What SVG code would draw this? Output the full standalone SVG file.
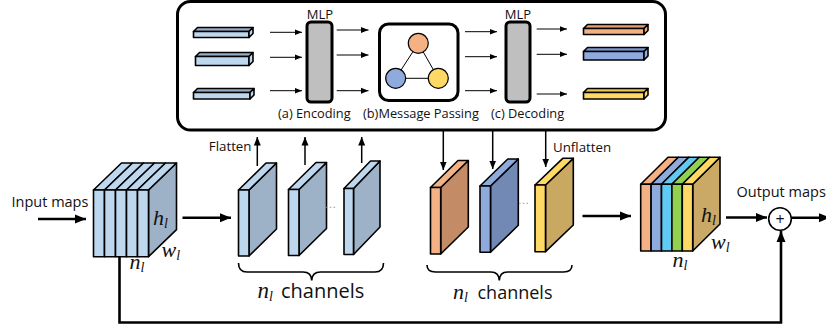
<svg xmlns="http://www.w3.org/2000/svg" width="826" height="332" viewBox="0 0 826 332">
  <style>
    .sans { font-family: "Open Sans", "Noto Sans", "DejaVu Sans", sans-serif; fill: #111; }
    .math { font-family: "Liberation Serif", "DejaVu Serif", serif; font-style: italic; fill: #111; }
    .sub { font-size: 14px; }
    .edge { stroke: #000; stroke-width: 1.6; stroke-linejoin: round; }
    .thick { fill: none; stroke: #000; stroke-width: 2.6; }
    .thin { fill: none; stroke: #000; stroke-width: 1; }
    .mid { fill: none; stroke: #000; stroke-width: 1.5; }
    .brace { fill: none; stroke: #000; stroke-width: 1.6; }
    .mlp { fill: #bfbfbf; stroke: #000; stroke-width: 3; }
    .lb { fill: #bdd7ee; }
    .gb { fill: #9db2c6; }
    .dots { font-family: "DejaVu Sans", sans-serif; font-size: 11px; fill: #999; }
  </style>
  <defs>
    <marker id="headBig" markerUnits="userSpaceOnUse" markerWidth="12" markerHeight="10" refX="11" refY="5" orient="auto">
      <path d="M0,0.5 L11,5 L0,9.5 Z" fill="#000"/>
    </marker>
    <marker id="headMid" markerUnits="userSpaceOnUse" markerWidth="9" markerHeight="8" refX="8.5" refY="4" orient="auto">
      <path d="M0,0.5 L8.5,4 L0,7.5 Z" fill="#000"/>
    </marker>
    <marker id="headSmall" markerUnits="userSpaceOnUse" markerWidth="8" markerHeight="7" refX="7.5" refY="3.5" orient="auto">
      <path d="M0,0.5 L7.5,3.5 L0,6.5 Z" fill="#000"/>
    </marker>
  </defs>

  <!-- graph module: encode, message passing, decode -->
  <g id="graph-module">
    <rect x="177.5" y="1.5" width="488" height="128.5" rx="13" fill="#fff" stroke="#000" stroke-width="3"/>

    <!-- flattened input vectors -->
    <g id="input-vectors" class="edge">
      <polygon points="193.5,31.5 197.5,27.5 253,27.5 249,31.5" fill="#97adc4"/>
      <rect x="193.5" y="31.5" width="55.5" height="6" class="lb"/>
      <polygon points="249,31.5 253,27.5 253,33.5 249,37.5" class="lb"/>
      <polygon points="195.5,56.5 199.5,52.5 253,52.5 249,56.5" fill="#97adc4"/>
      <rect x="195.5" y="56.5" width="53.5" height="9" class="lb"/>
      <polygon points="249,56.5 253,52.5 253,61.5 249,65.5" class="lb"/>
      <polygon points="193.5,92.5 197.5,88.5 254,88.5 250,92.5" fill="#97adc4"/>
      <rect x="193.5" y="92.5" width="56.5" height="6.5" class="lb"/>
      <polygon points="250,92.5 254,88.5 254,95 250,99" class="lb"/>
    </g>

    <g id="mlp-encode">
      <text class="sans" x="320" y="18.5" font-size="13" text-anchor="middle">MLP</text>
      <rect x="307" y="22" width="25" height="80" rx="4" class="mlp"/>
    </g>

    <g id="message-passing">
      <rect x="379.5" y="24" width="78.5" height="76.5" rx="9" fill="#fff" stroke="#000" stroke-width="3"/>
      <g class="thin">
        <line x1="418.3" y1="43.3" x2="395.7" y2="78.3"/>
        <line x1="418.3" y1="43.3" x2="438.3" y2="78.3"/>
        <line x1="395.7" y1="78.3" x2="438.3" y2="78.3"/>
      </g>
      <circle cx="418.3" cy="43.3" r="10" fill="#f4b183" stroke="#000" stroke-width="1.2"/>
      <circle cx="395.7" cy="78.3" r="10" fill="#8faadc" stroke="#000" stroke-width="1.2"/>
      <circle cx="438.3" cy="78.3" r="10" fill="#ffd966" stroke="#000" stroke-width="1.2"/>
    </g>

    <g id="mlp-decode">
      <text class="sans" x="518" y="18.5" font-size="13" text-anchor="middle">MLP</text>
      <rect x="506" y="22" width="24" height="80" rx="4" class="mlp"/>
    </g>

    <!-- decoded output vectors -->
    <g id="output-vectors" class="edge">
      <polygon points="583.5,28.5 587.5,24.5 648,24.5 644,28.5" fill="#e8a273"/>
      <rect x="583.5" y="28.5" width="60.5" height="6" fill="#f4b183"/>
      <polygon points="644,28.5 648,24.5 648,30.5 644,34.5" fill="#f4b183"/>
      <polygon points="583.5,51.5 587.5,47.5 648,47.5 644,51.5" fill="#7e9ad0"/>
      <rect x="583.5" y="51.5" width="60.5" height="8.5" fill="#8faadc"/>
      <polygon points="644,51.5 648,47.5 648,56 644,60" fill="#8faadc"/>
      <polygon points="583.5,92.5 587.5,88.5 648,88.5 644,92.5" fill="#ecc552"/>
      <rect x="583.5" y="92.5" width="60.5" height="6.5" fill="#ffd966"/>
      <polygon points="644,92.5 648,88.5 648,95 644,99" fill="#ffd966"/>
    </g>

    <g id="stage-labels" class="sans" font-size="12.8">
      <text x="278" y="117.5">(a) Encoding</text>
      <text x="363" y="117.5">(b)Message Passing</text>
      <text x="491" y="117.5">(c) Decoding</text>
    </g>
  </g>

  <!-- input feature maps -->
  <g id="input-maps">
    <text class="sans" x="11.5" y="206.5" font-size="14.5">Input maps</text>
    <g class="edge">
      <polygon points="148.5,190 176.5,163 176.5,229.7 148.5,256.7" class="gb"/>
      <polygon points="93.5,190 121.5,163 132.5,163 104.5,190" class="lb"/>
      <polygon points="104.5,190 132.5,163 143.5,163 115.5,190" class="lb"/>
      <polygon points="115.5,190 143.5,163 154.5,163 126.5,190" class="lb"/>
      <polygon points="126.5,190 154.5,163 165.5,163 137.5,190" class="lb"/>
      <polygon points="137.5,190 165.5,163 176.5,163 148.5,190" class="lb"/>
      <rect x="93.5" y="190" width="11" height="66.7" class="lb"/>
      <rect x="104.5" y="190" width="11" height="66.7" class="lb"/>
      <rect x="115.5" y="190" width="11" height="66.7" class="lb"/>
      <rect x="126.5" y="190" width="11" height="66.7" class="lb"/>
      <rect x="137.5" y="190" width="11" height="66.7" class="lb"/>
    </g>
    <text class="math" x="153" y="225" font-size="22">h<tspan class="sub" dy="3">l</tspan></text>
    <text class="math" x="161.5" y="257" font-size="22">w<tspan class="sub" dy="3">l</tspan></text>
    <text class="math" x="129.5" y="269" font-size="22">n<tspan class="sub" dy="3">l</tspan></text>
  </g>

  <!-- split channels -->
  <g id="channel-1" class="edge">
    <polygon points="249,190 276.5,163 276.5,229 249,256" class="gb"/>
    <polygon points="238.5,190 266,163 276.5,163 249,190" class="lb"/>
    <rect x="238.5" y="190" width="10.5" height="66" class="lb"/>
  </g>
  <g id="channel-2" class="edge">
    <polygon points="299,189.5 326.5,162.5 326.5,228.5 299,255.5" class="gb"/>
    <polygon points="288.5,189.5 316,162.5 326.5,162.5 299,189.5" class="lb"/>
    <rect x="288.5" y="189.5" width="10.5" height="66" class="lb"/>
  </g>
  <text class="dots" x="325" y="208">…</text>
  <g id="channel-n" class="edge">
    <polygon points="353.5,188.5 380,161 380,227 353.5,254.5" class="gb"/>
    <polygon points="344,188.5 370.5,161 380,161 353.5,188.5" class="lb"/>
    <rect x="344" y="188.5" width="9.5" height="66" class="lb"/>
  </g>
  <text class="sans" x="251.5" y="151" font-size="13.3" text-anchor="end">Flatten</text>
  <g id="brace-in">
    <path class="brace" d="M238.5,263 Q238.5,272 247,272 L303,272 Q311.5,272 311.7,280.5 Q312,272 320.5,272 L375,272 Q383.5,272 383.5,263"/>
    <text class="math" x="257.5" y="298" font-size="23">n<tspan class="sub" dy="3">l</tspan></text>
    <text class="sans" x="281" y="298" font-size="20">channels</text>
  </g>

  <!-- updated channels -->
  <g id="channel-out-1" class="edge">
    <polygon points="440.7,187.5 468.3,160.5 468.3,227 440.7,254" fill="#c48c66"/>
    <polygon points="430.5,187.5 458,160.5 468.3,160.5 440.7,187.5" fill="#f4b183"/>
    <rect x="430.5" y="187.5" width="10.2" height="66.5" fill="#f4b183"/>
  </g>
  <g id="channel-out-2" class="edge">
    <polygon points="490.5,186 518.3,159 518.3,225.3 490.5,252.3" fill="#7189b4"/>
    <polygon points="480,186 507.8,159 518.3,159 490.5,186" fill="#8faadc"/>
    <rect x="480" y="186" width="10.5" height="66.3" fill="#8faadc"/>
  </g>
  <text class="dots" x="518" y="204">…</text>
  <g id="channel-out-n" class="edge">
    <polygon points="545.5,185 573.3,158.3 573.3,225 545.5,251.7" fill="#c9a862"/>
    <polygon points="535,185 562.8,158.3 573.3,158.3 545.5,185" fill="#ffd966"/>
    <rect x="535" y="185" width="10.5" height="66.7" fill="#ffd966"/>
  </g>
  <text class="sans" x="553" y="151.5" font-size="13.3">Unflatten</text>
  <g id="brace-out">
    <path class="brace" d="M427,265 Q427,272 435.5,272 L491,272 Q499,272 499.3,280.5 Q499.6,272 507.5,272 L563.5,272 Q572,272 572,265"/>
    <text class="math" x="453" y="299" font-size="22">n<tspan class="sub" dy="3">l</tspan></text>
    <text class="sans" x="477.5" y="299" font-size="18">channels</text>
  </g>

  <!-- reassembled output maps -->
  <g id="output-maps">
    <g class="edge">
      <polygon points="692.7,184.3 720,157.3 720,224 692.7,251" fill="#c9a965"/>
      <polygon points="640.7,184.3 668,157.3 678.4,157.3 651.1,184.3" fill="#f4b183"/>
      <polygon points="651.1,184.3 678.4,157.3 688.8,157.3 661.5,184.3" fill="#8faadc"/>
      <polygon points="661.5,184.3 688.8,157.3 699.2,157.3 671.9,184.3" fill="#5fcbf3"/>
      <polygon points="671.9,184.3 699.2,157.3 709.6,157.3 682.3,184.3" fill="#92d050"/>
      <polygon points="682.3,184.3 709.6,157.3 720,157.3 692.7,184.3" fill="#ffd966"/>
      <rect x="640.7" y="184.3" width="10.4" height="66.7" fill="#f4b183"/>
      <rect x="651.1" y="184.3" width="10.4" height="66.7" fill="#8faadc"/>
      <rect x="661.5" y="184.3" width="10.4" height="66.7" fill="#5fcbf3"/>
      <rect x="671.9" y="184.3" width="10.4" height="66.7" fill="#92d050"/>
      <rect x="682.3" y="184.3" width="10.4" height="66.7" fill="#ffd966"/>
    </g>
    <text class="math" x="701" y="221.5" font-size="22">h<tspan class="sub" dy="3">l</tspan></text>
    <text class="math" x="711" y="249" font-size="22">w<tspan class="sub" dy="3">l</tspan></text>
    <text class="math" x="672.5" y="266.5" font-size="22">n<tspan class="sub" dy="3">l</tspan></text>
    <text class="sans" x="736.5" y="196.5" font-size="14.5">Output maps</text>
  </g>

  <g id="sum">
    <circle cx="780" cy="219" r="11.3" fill="#fff" stroke="#000" stroke-width="1.6"/>
    <text class="sans" x="780" y="224.5" font-size="16" text-anchor="middle">+</text>
  </g>

  <!-- connectors -->
  <g id="connectors">
    <line class="thick" x1="38" y1="219" x2="86" y2="219" marker-end="url(#headBig)"/>
    <line class="thick" x1="182.5" y1="217.7" x2="231" y2="217.7" marker-end="url(#headBig)"/>
    <line class="thick" x1="582.5" y1="216" x2="631" y2="216" marker-end="url(#headBig)"/>
    <line class="thick" x1="726" y1="217.5" x2="767" y2="217.5" marker-end="url(#headBig)"/>
    <line class="thick" x1="792" y1="217.7" x2="830" y2="217.7" marker-end="url(#headBig)"/>
    <polyline class="thick" points="119.5,256.7 119.5,322.5 781,322.5 781,231" marker-end="url(#headBig)"/>

    <line class="mid" x1="257.3" y1="166" x2="257.3" y2="137" marker-end="url(#headMid)"/>
    <line class="mid" x1="305" y1="165" x2="305" y2="137" marker-end="url(#headMid)"/>
    <line class="mid" x1="361.7" y1="163" x2="361.7" y2="137" marker-end="url(#headMid)"/>
    <line class="mid" x1="443.3" y1="131" x2="443.3" y2="170" marker-end="url(#headMid)"/>
    <line class="mid" x1="492.7" y1="131" x2="492.7" y2="169" marker-end="url(#headMid)"/>
    <line class="mid" x1="545.7" y1="131" x2="545.7" y2="167" marker-end="url(#headMid)"/>

    <g class="thin">
      <line x1="270" y1="32.3" x2="302" y2="32.3" marker-end="url(#headSmall)"/>
      <line x1="270" y1="57.3" x2="302" y2="57.3" marker-end="url(#headSmall)"/>
      <line x1="270" y1="90.7" x2="302" y2="90.7" marker-end="url(#headSmall)"/>
      <line x1="336.7" y1="30" x2="368.5" y2="30" marker-end="url(#headSmall)"/>
      <line x1="336.7" y1="55" x2="368.5" y2="55" marker-end="url(#headSmall)"/>
      <line x1="336.7" y1="90.7" x2="368.5" y2="90.7" marker-end="url(#headSmall)"/>
      <line x1="465" y1="31.7" x2="497" y2="31.7" marker-end="url(#headSmall)"/>
      <line x1="465" y1="56.7" x2="497" y2="56.7" marker-end="url(#headSmall)"/>
      <line x1="465" y1="90.7" x2="497" y2="90.7" marker-end="url(#headSmall)"/>
      <line x1="536.7" y1="29" x2="567" y2="29" marker-end="url(#headSmall)"/>
      <line x1="536.7" y1="54.3" x2="567" y2="54.3" marker-end="url(#headSmall)"/>
      <line x1="536.7" y1="94" x2="567" y2="94" marker-end="url(#headSmall)"/>
    </g>
  </g>
</svg>
